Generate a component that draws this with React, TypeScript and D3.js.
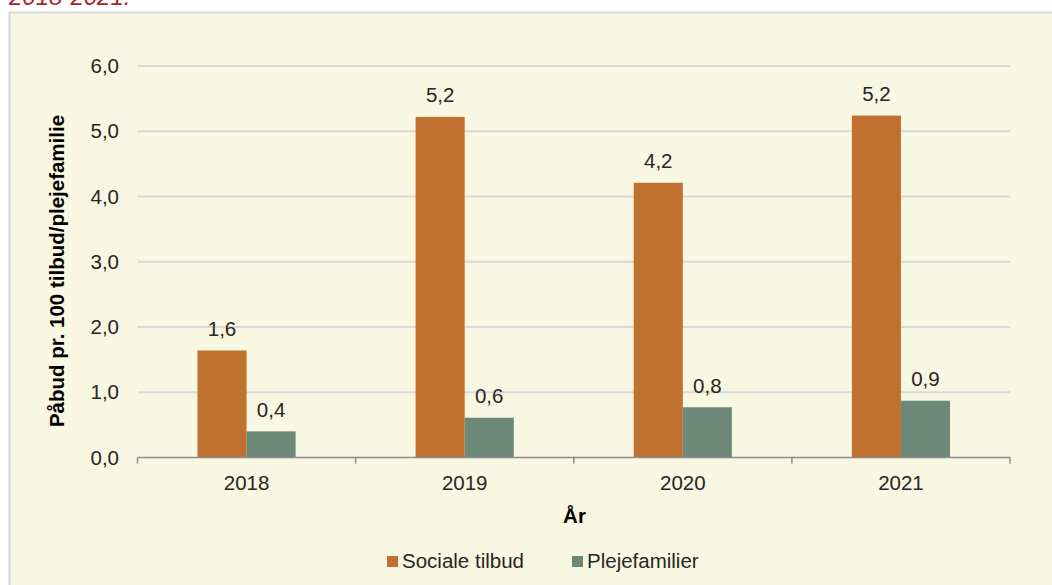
import React from "react";
import * as d3 from "d3";

const years = ["2018", "2019", "2020", "2021"];
const socialeTilbud = [1.64, 5.22, 4.21, 5.24];
const plejefamilier = [0.4, 0.61, 0.77, 0.87];
const yTicks = [0, 1, 2, 3, 4, 5, 6];
const seriesNames = ["Sociale tilbud", "Plejefamilier"];
const colors = ["#C0702F", "#6B8878"];

const W = 1052;
const H = 585;
const plot = { left: 137.5, right: 1010, top: 66, bottom: 457.5 };
const FONT = "'Liberation Sans', Arial, sans-serif";
const FS = 20.5;
const fmt = (v: number) => v.toFixed(1).replace(".", ",");

export default function App() {
  const x = d3.scaleBand<string>().domain(years).range([plot.left, plot.right]).paddingInner(0).paddingOuter(0);
  const y = d3.scaleLinear().domain([0, 6]).range([plot.bottom, plot.top]);
  const barW = x.bandwidth() * 0.225;
  const series = [socialeTilbud, plejefamilier];
  const boundaries = [...years.map((yr) => x(yr) as number), plot.right];

  return (
    <svg width={W} height={H} style={{ position: "absolute", left: 0, top: 0 }} fontFamily={FONT}>
      <rect x={0} y={0} width={W} height={H} fill="#ffffff" />
      <text x={9} y={5} fill="#A5242F" fontStyle="italic" fontSize={24}>2018-2021.</text>
      <rect x={9.5} y={12.5} width={W + 20} height={H + 20} fill="#F8F7E1" stroke="#D8D8D8" strokeWidth={2} />
      {yTicks.map((t) => (
        <g key={t}>
          {t > 0 && (
            <line x1={plot.left} x2={plot.right} y1={y(t)} y2={y(t)} stroke="#D9D9D9" strokeWidth={2} />
          )}
          <text x={119} y={y(t)} dy="0.35em" textAnchor="end" fontSize={FS} fill="#262626">
            {fmt(t)}
          </text>
        </g>
      ))}
      {years.map((yr, i) => {
        const cx = (x(yr) as number) + x.bandwidth() / 2;
        return (
          <g key={yr}>
            {series.map((s, j) => {
              const bx = cx - barW + j * barW;
              return (
                <g key={j}>
                  <rect x={bx} y={y(s[i])} width={barW} height={plot.bottom - y(s[i])} fill={colors[j]} />
                  <text x={bx + barW / 2} y={y(s[i]) - 14.5} textAnchor="middle" fontSize={FS} fill="#262626">
                    {fmt(s[i])}
                  </text>
                </g>
              );
            })}
            <text x={cx} y={490} textAnchor="middle" fontSize={FS} fill="#262626">
              {yr}
            </text>
          </g>
        );
      })}
      <line x1={plot.left} x2={plot.right} y1={plot.bottom} y2={plot.bottom} stroke="#8C8C8C" strokeWidth={1.5} />
      {boundaries.map((b, i) => (
        <line key={i} x1={b} x2={b} y1={plot.bottom} y2={plot.bottom + 6} stroke="#8C8C8C" strokeWidth={1.5} />
      ))}
      <text x={574.5} y={523} textAnchor="middle" fontSize={FS} fontWeight="bold" fill="#000">År</text>
      <text
        transform={`translate(64, 271) rotate(-90)`}
        textAnchor="middle"
        fontSize={FS}
        fontWeight="bold"
        fill="#000"
      >
        Påbud pr. 100 tilbud/plejefamilie
      </text>
      {seriesNames.map((n, i) => {
        const lx = i === 0 ? 387 : 572;
        return (
          <g key={n}>
            <rect x={lx} y={556} width={11} height={11} fill={colors[i]} />
            <text x={lx + 15} y={568} fontSize={FS} fill="#262626">{n}</text>
          </g>
        );
      })}
    </svg>
  );
}
